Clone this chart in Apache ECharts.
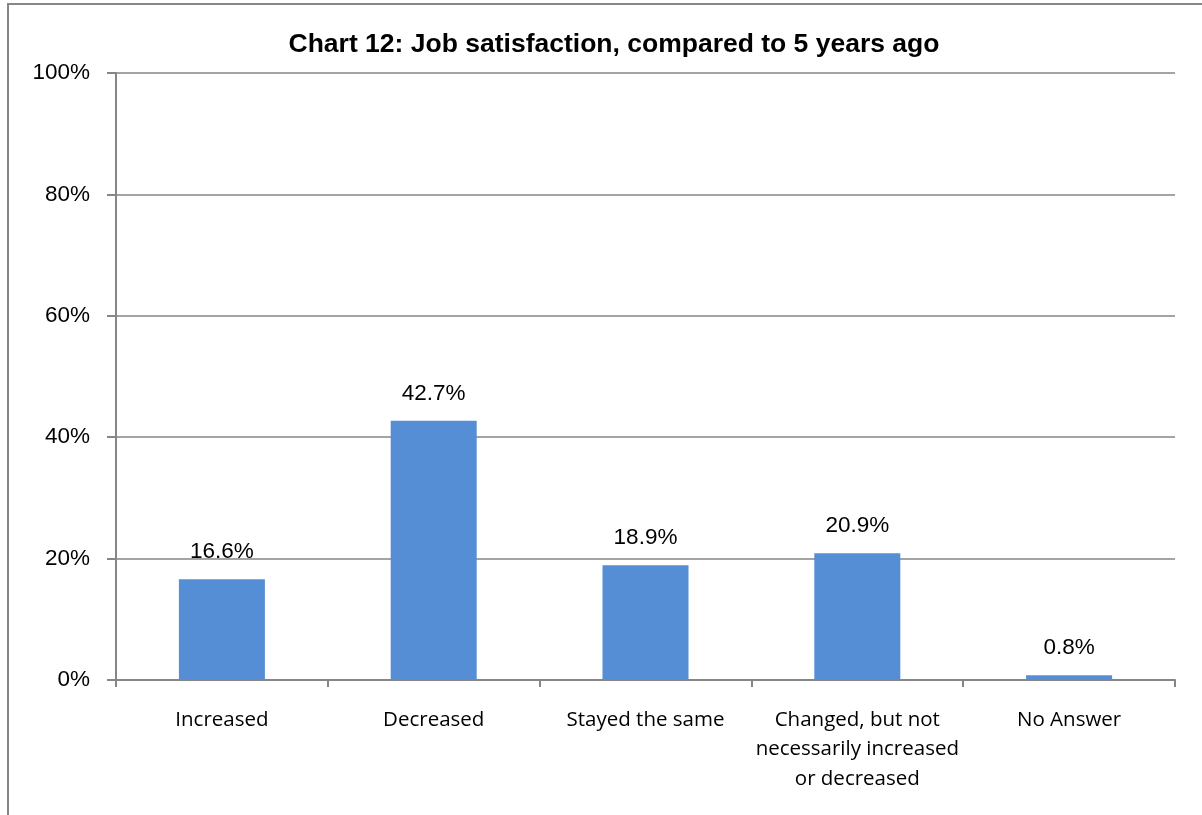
<!DOCTYPE html>
<html>
<head>
<meta charset="utf-8">
<script src="https://cdn.jsdelivr.net/npm/echarts@6/dist/echarts.min.js"></script>
<style>
  html, body { margin: 0; padding: 0; background: #fff; }
  #chart { width: 1202px; height: 815px; }
</style>
</head>
<body>
<div id="chart"></div>
<script>
// Survey answers and their shares (percent)
const categories = [
  'Increased',
  'Decreased',
  'Stayed the same',
  'Changed, but not\nnecessarily increased\nor decreased',
  'No Answer'
];
const shares = [16.6, 42.7, 18.9, 20.9, 0.8];
const yTicks = [0, 20, 40, 60, 80, 100];

const gray = '#868686';
const chart = echarts.init(document.getElementById('chart'));

chart.setOption({
  animation: false,
  backgroundColor: '#fff',
  title: {
    text: 'Chart 12: Job satisfaction, compared to 5 years ago',
    left: 609,
    top: 26,
    textAlign: 'center',
    textStyle: {
      fontFamily: '"Liberation Sans", Arial, sans-serif',
      fontSize: 26.5,
      fontWeight: 'bold',
      color: '#000'
    }
  },
  graphic: [{
    type: 'rect',
    shape: { x: 8, y: 4, width: 1400, height: 1000 },
    style: { fill: 'none', stroke: gray, lineWidth: 2 },
    silent: true,
    z: -1
  }],
  grid: { left: 116, right: 27, top: 73, bottom: 135 },
  xAxis: {
    type: 'category',
    data: categories,
    axisLine: { lineStyle: { color: gray, width: 2 } },
    axisTick: { show: true, length: 7, lineStyle: { color: gray, width: 2 } },
    axisLabel: {
      margin: 25,
      color: '#000',
      fontFamily: '"Open Sans", Calibri, sans-serif',
      fontSize: 20.5,
      lineHeight: 29.5,
      interval: 0
    }
  },
  yAxis: {
    type: 'value',
    min: yTicks[0],
    max: yTicks[yTicks.length - 1],
    interval: 20,
    axisLine: { show: true, lineStyle: { color: gray, width: 2 } },
    axisTick: { show: true, length: 9, lineStyle: { color: gray, width: 2 } },
    splitLine: { lineStyle: { color: gray, width: 1.5 } },
    axisLabel: {
      margin: 26,
      color: '#000',
      fontFamily: '"Liberation Sans", Arial, sans-serif',
      fontSize: 22.5,
      formatter: v => v + '%'
    }
  },
  series: [{
    type: 'bar',
    data: shares,
    barWidth: 86,
    itemStyle: { color: '#558ed5' },
    label: {
      show: true,
      position: 'top',
      distance: 16,
      color: '#000',
      fontFamily: '"Liberation Sans", Arial, sans-serif',
      fontSize: 22.5,
      formatter: p => p.value.toFixed(1) + '%'
    }
  }]
});
</script>
</body>
</html>
